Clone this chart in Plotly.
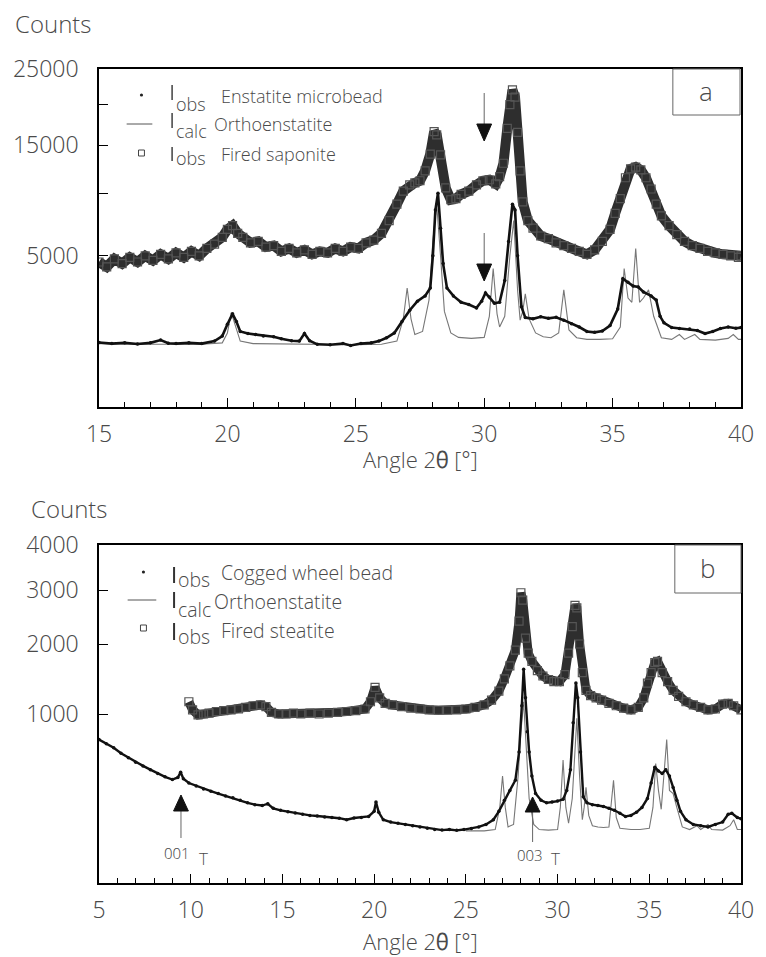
import numpy as np
import plotly.graph_objects as go

# ---------------- Panel a data (counts vs 2theta) ----------------
a_sap_x = [15.0, 15.3, 15.6, 15.9, 16.2, 16.5, 16.8, 17.1, 17.4, 17.7, 18.0, 18.3, 18.6, 18.9,
           19.2, 19.5, 19.8, 20.0, 20.2, 20.4, 20.6, 20.9, 21.2, 21.5, 21.8, 22.1, 22.4, 22.7,
           23.0, 23.3, 23.6, 23.9, 24.2, 24.5, 24.8, 25.1, 25.4, 25.7, 26.0, 26.3, 26.6, 26.85,
           27.1, 27.3, 27.5, 27.7, 27.9, 28.05, 28.15, 28.3, 28.5, 28.7, 28.9, 29.1, 29.4, 29.7,
           29.95, 30.2, 30.45, 30.6, 30.75, 30.9, 31.0, 31.1, 31.2, 31.3, 31.4, 31.5, 31.7, 31.9,
           32.2, 32.5, 32.8, 33.1, 33.4, 33.7, 34.0, 34.3, 34.6, 34.9, 35.1, 35.3, 35.5, 35.7,
           35.9, 36.1, 36.3, 36.5, 36.7, 36.9, 37.2, 37.5, 37.8, 38.1, 38.4, 38.7, 39.0, 39.3,
           39.6, 39.9, 40.0]
a_sap_y = [4600, 4300, 4800, 4500, 4900, 4600, 5000, 4700, 5100, 4800, 5200, 4900, 5300, 5000,
           5500, 5800, 6300, 6900, 7200, 6600, 6300, 5900, 6000, 5600, 5700, 5300, 5500, 5200,
           5400, 5100, 5300, 5200, 5500, 5300, 5600, 5500, 5900, 6100, 6600, 7600, 9000, 10200,
           10800, 11000, 11200, 12200, 14000, 16600, 16200, 13900, 10500, 9400, 9500, 9900, 10200, 10800,
           11200, 11300, 10900, 11600, 13000, 17000, 20000, 22000, 21000, 16500, 12200, 9200, 7600, 7000,
           6400, 6200, 5900, 5700, 5500, 5300, 5100, 5400, 6000, 6900, 8200, 9500, 11500, 12400,
           12600, 12300, 11500, 10400, 9000, 8000, 7200, 6500, 6000, 5700, 5500, 5300, 5200, 5100,
           5000, 4900, 5000]

a_obs_x = [15.0, 15.5, 16.0, 16.5, 17.0, 17.4, 17.7, 18.0, 18.5, 19.0, 19.5, 19.8, 20.0, 20.2,
           20.35, 20.5, 20.8, 21.1, 21.4, 21.8, 22.1, 22.5, 22.8, 23.0, 23.2, 23.5, 24.0, 24.5,
           24.8, 25.2, 25.6, 25.9, 26.2, 26.5, 26.8, 27.1, 27.4, 27.7, 27.9, 28.0, 28.1, 28.2,
           28.3, 28.4, 28.55, 28.8, 29.1, 29.4, 29.7, 29.9, 30.05, 30.2, 30.4, 30.6, 30.8, 30.95,
           31.1, 31.2, 31.3, 31.45, 31.6, 31.9, 32.2, 32.5, 32.8, 33.1, 33.4, 33.7, 34.0, 34.3,
           34.6, 34.9, 35.2, 35.4, 35.6, 35.8, 36.0, 36.2, 36.5, 36.7, 36.85, 37.0, 37.3, 37.6,
           38.0, 38.3, 38.6, 38.9, 39.2, 39.5, 39.8, 40.0]
a_obs_y = [910, 880, 900, 870, 900, 980, 890, 880, 900, 880, 950, 1100, 1500, 1900,
           1600, 1250, 1180, 1150, 1100, 1080, 1020, 960, 950, 1180, 960, 860, 850, 880,
           830, 880, 900, 950, 1050, 1200, 1600, 2050, 2450, 2700, 3100, 5000, 8500, 10000,
           7000, 4500, 3100, 2700, 2400, 2300, 2150, 2450, 2850, 2650, 2350, 2400, 3500, 6000,
           9000, 8500, 5000, 2200, 1750, 1700, 1780, 1720, 1760, 1650, 1520, 1400, 1250, 1220,
           1260, 1450, 2100, 3600, 3400, 3200, 3150, 2900, 2700, 2500, 1800, 1550, 1380, 1350,
           1330, 1280, 1180, 1250, 1350, 1400, 1360, 1380]

a_calc_x = [15.0, 16.0, 17.0, 18.0, 19.0, 19.8, 20.0, 20.15, 20.3, 20.5, 21.0, 22.0, 23.0, 24.0,
            25.0, 26.0, 26.6, 26.85, 27.0, 27.15, 27.3, 27.6, 27.85, 28.0, 28.15, 28.3, 28.45, 28.7,
            29.0, 29.5, 30.0, 30.2, 30.35, 30.5, 30.6, 30.8, 31.0, 31.15, 31.3, 31.4, 31.5, 31.6,
            31.75, 32.0, 32.3, 32.6, 32.9, 33.1, 33.3, 33.6, 34.0, 34.5, 35.0, 35.3, 35.45, 35.6,
            35.75, 35.9, 36.05, 36.2, 36.4, 36.6, 36.9, 37.3, 37.6, 37.8, 38.2, 38.4, 39.0, 39.5,
            39.7, 39.9, 40.0]
a_calc_y = [880, 860, 860, 860, 860, 900, 1200, 1950, 1500, 950, 880, 870, 860, 850,
            850, 860, 950, 1700, 3100, 1700, 1150, 1250, 2500, 6000, 9000, 5000, 2000, 1200,
            1060, 1030, 1060, 1800, 4200, 1900, 1400, 1800, 5000, 7600, 3000, 1650, 2000, 2800,
            1700, 1200, 1080, 1050, 1200, 3000, 1300, 1050, 1000, 1000, 1020, 1400, 4200, 2600,
            2400, 5500, 2400, 2600, 3000, 1800, 1050, 1000, 1150, 1000, 1150, 1000, 980, 1030,
            1150, 1000, 1000]

# ---------------- Panel b data ----------------
b_ste_x = [9.9, 10.1, 10.4, 10.7, 11.0, 11.4, 11.8, 12.2, 12.6, 13.0, 13.4, 13.8, 14.1, 14.4,
           14.8, 15.2, 15.6, 16.0, 16.5, 17.0, 17.5, 18.0, 18.5, 19.0, 19.5, 19.8, 20.05, 20.3,
           20.6, 21.0, 21.5, 22.0, 22.5, 23.0, 23.5, 24.0, 24.5, 25.0, 25.5, 26.0, 26.4, 26.8,
           27.1, 27.4, 27.7, 27.9, 28.0, 28.1, 28.25, 28.4, 28.6, 28.9, 29.2, 29.5, 29.8, 30.1,
           30.4, 30.6, 30.8, 30.95, 31.05, 31.2, 31.35, 31.55, 31.8, 32.1, 32.4, 32.8, 33.2, 33.6,
           34.0, 34.4, 34.7, 34.9, 35.1, 35.3, 35.45, 35.7, 36.0, 36.3, 36.6, 37.0, 37.4, 37.8,
           38.2, 38.6, 39.0, 39.3, 39.6, 40.0]
b_ste_y = [1150, 1050, 990, 1000, 1010, 1030, 1040, 1050, 1060, 1080, 1100, 1110, 1090, 1020,
           1000, 1000, 1010, 1000, 1010, 1000, 1010, 1020, 1030, 1040, 1060, 1150, 1340, 1200,
           1130, 1110, 1090, 1070, 1060, 1050, 1045, 1045, 1050, 1060, 1080, 1110, 1170, 1290,
           1460, 1650, 1900, 2400, 2950, 2800, 2100, 1850, 1720, 1580, 1500, 1450, 1420, 1420,
           1520, 1850, 2300, 2700, 2650, 2000, 1550, 1300, 1230, 1200, 1170, 1130, 1100, 1070,
           1050, 1080, 1200, 1400, 1550, 1700, 1720, 1550, 1420, 1300, 1220, 1150, 1110, 1080,
           1050, 1060, 1120, 1130, 1100, 1050]

b_obs_x = [5.0, 5.4, 5.8, 6.2, 6.6, 7.0, 7.4, 7.8, 8.2, 8.6, 9.0, 9.3, 9.45, 9.6,
           9.9, 10.3, 10.7, 11.1, 11.5, 11.9, 12.3, 12.7, 13.1, 13.5, 13.9, 14.2, 14.5, 14.9,
           15.3, 15.7, 16.1, 16.5, 16.9, 17.3, 17.7, 18.1, 18.5, 18.9, 19.3, 19.7, 20.0, 20.1,
           20.25, 20.5, 20.9, 21.3, 21.7, 22.1, 22.5, 22.9, 23.3, 23.7, 24.1, 24.5, 24.9, 25.3,
           25.7, 26.1, 26.5, 26.8, 27.1, 27.4, 27.7, 27.9, 28.05, 28.15, 28.25, 28.35, 28.45, 28.6,
           28.8, 29.1, 29.4, 29.7, 30.0, 30.3, 30.5, 30.7, 30.85, 31.0, 31.1, 31.25, 31.4, 31.6,
           31.9, 32.2, 32.5, 32.8, 33.1, 33.4, 33.7, 34.0, 34.3, 34.6, 34.9, 35.1, 35.3, 35.5,
           35.7, 35.9, 36.1, 36.3, 36.5, 36.7, 37.0, 37.4, 37.8, 38.2, 38.6, 39.0, 39.3, 39.5,
           39.8, 40.0]
b_obs_y = [720, 680, 640, 590, 550, 510, 480, 450, 420, 395, 375, 390, 430, 380,
           350, 330, 310, 295, 280, 265, 255, 240, 225, 215, 210, 220, 195, 185,
           178, 172, 165, 160, 157, 152, 150, 147, 140, 148, 150, 155, 180, 230,
           175, 140, 130, 125, 120, 115, 110, 105, 100, 98, 100, 97, 100, 104,
           110, 120, 140, 180, 240, 300, 370, 600, 1100, 1600, 1200, 800, 600, 400,
           280, 240, 225, 230, 235, 245, 300, 450, 900, 1400, 1200, 600, 260, 225,
           215, 210, 205, 195, 185, 170, 155, 160, 175, 200, 250, 350, 470, 440,
           420, 450, 400, 320, 240, 180, 140, 120, 115, 110, 120, 130, 165, 170,
           150, 145]

b_calc_x = [25.0, 26.0, 26.6, 26.85, 27.0, 27.15, 27.3, 27.6, 27.85, 28.0, 28.15, 28.3, 28.45, 28.7,
            29.0, 29.5, 30.0, 30.15, 30.3, 30.45, 30.6, 30.8, 30.95, 31.05, 31.2, 31.35, 31.45, 31.55,
            31.7, 31.9, 32.2, 32.5, 32.8, 32.95, 33.05, 33.2, 33.4, 34.0, 34.5, 35.0, 35.2, 35.35,
            35.5, 35.65, 35.8, 35.95, 36.1, 36.3, 36.5, 36.8, 37.2, 37.6, 37.8, 38.2, 38.4, 39.0,
            39.4, 39.6, 39.8, 40.0]
b_calc_y = [95, 95, 100, 200, 400, 200, 110, 120, 400, 800, 1150, 600, 250, 120,
            100, 98, 100, 200, 530, 200, 125, 250, 700, 950, 400, 140, 200, 320,
            160, 115, 110, 108, 110, 250, 370, 150, 105, 100, 100, 105, 200, 500,
            300, 190, 400, 720, 300, 280, 200, 110, 100, 115, 100, 120, 100, 98,
            115, 140, 100, 100]

# Axis tick values (counts)
a_ticks = [5000, 10000, 15000, 20000, 25000]
a_ticktext = ["5000", "", "15000", "", "25000"]
b_ticks = [1000, 2000, 3000, 4000]
b_ticktext = ["1000", "2000", "3000", "4000"]

# ---------------- Figure ----------------
W, H = 766, 957
ML, MR, MT, MB = 99, 17, 69, 74
PW, PH = W - ML - MR, H - MT - MB


def PX(px):
    return (px - ML) / PW


def PY(py):
    return (H - MB - py) / PH


sq = np.sqrt
FONT = '"Open Sans Light", "Lato Light", "Liberation Sans", Arial, sans-serif'
GREY = "#4a4a4a"

fig = go.Figure()

# panel a
fig.add_trace(go.Scatter(x=a_sap_x, y=sq(a_sap_y), mode="lines+markers", xaxis="x", yaxis="y",
                         line=dict(color="#2e2e2e", width=10),
                         marker=dict(symbol="square-open", size=8, color="#555", line=dict(width=1.2)),
                         showlegend=False, name="Iobs Fired saponite"))
fig.add_trace(go.Scatter(x=a_calc_x, y=sq(a_calc_y), mode="lines", xaxis="x", yaxis="y",
                         line=dict(color="#777", width=1.1), showlegend=False,
                         name="Icalc Orthoenstatite"))
fig.add_trace(go.Scatter(x=a_obs_x, y=sq(a_obs_y), mode="lines+markers", xaxis="x", yaxis="y",
                         line=dict(color="#111", width=2.6), marker=dict(size=3.5, color="#111"),
                         showlegend=False, name="Iobs Enstatite microbead"))

# panel b
fig.add_trace(go.Scatter(x=b_ste_x, y=sq(b_ste_y), mode="lines+markers", xaxis="x2", yaxis="y2",
                         line=dict(color="#2e2e2e", width=9),
                         marker=dict(symbol="square-open", size=8, color="#555", line=dict(width=1.2)),
                         showlegend=False, name="Iobs Fired steatite"))
fig.add_trace(go.Scatter(x=b_calc_x, y=sq(b_calc_y), mode="lines", xaxis="x2", yaxis="y2",
                         line=dict(color="#777", width=1.1), showlegend=False,
                         name="Icalc Orthoenstatite"))
fig.add_trace(go.Scatter(x=b_obs_x, y=sq(b_obs_y), mode="lines+markers", xaxis="x2", yaxis="y2",
                         line=dict(color="#111", width=2.4), marker=dict(size=3.5, color="#111"),
                         showlegend=False, name="Iobs Cogged wheel bead"))

ax_common = dict(showline=True, linecolor="black", linewidth=1.5, mirror=True, showgrid=False,
                 zeroline=False, ticks="inside", tickcolor="black", tickwidth=1,
                 tickfont=dict(family=FONT, size=23, color=GREY))

fig.update_layout(
    width=W, height=H, margin=dict(l=ML, r=MR, t=MT, b=MB),
    paper_bgcolor="white", plot_bgcolor="white", showlegend=False,
    xaxis=dict(domain=[0, 1], anchor="y", range=[15, 40], tickmode="linear", tick0=15, dtick=5,
               ticklen=9, ticklabelstandoff=6,
               minor=dict(dtick=1, tick0=15, ticks="inside", ticklen=5, tickcolor="black", showgrid=False),
               **ax_common),
    yaxis=dict(domain=[PY(407), 1], anchor="x", range=[0, sq(25000)], tickmode="array",
               tickvals=list(sq(a_ticks)), ticktext=a_ticktext, ticklen=9, ticklabelstandoff=14,
               **ax_common),
    xaxis2=dict(domain=[0, 1], anchor="y2", range=[5, 40], tickmode="linear", tick0=5, dtick=5,
                ticklen=9, ticklabelstandoff=6,
                minor=dict(dtick=1, tick0=5, ticks="inside", ticklen=5, tickcolor="black", showgrid=False),
                **ax_common),
    yaxis2=dict(domain=[0, PY(545)], anchor="x2", range=[0, sq(4000)], tickmode="array",
                tickvals=list(sq(b_ticks)), ticktext=b_ticktext, ticklen=9, ticklabelstandoff=14,
                **ax_common),
)

shapes = []
anns = []


def text(px, py, s, size=17, xanchor="left", color=GREY):
    anns.append(dict(x=PX(px), y=PY(py), xref="paper", yref="paper", text=s, showarrow=False,
                     xanchor=xanchor, yanchor="middle", font=dict(family=FONT, size=size, color=color)))


# Axis labels
text(12, 24, "Counts", size=24)
text(28, 508, "Counts", size=24)
text(424, 459, "Angle 2<b>θ</b> [°]", size=22, xanchor="center")
text(424, 941, "Angle 2<b>θ</b> [°]", size=22, xanchor="center")

# Panel labels in boxes
shapes.append(dict(type="rect", xref="paper", yref="paper", x0=PX(680), x1=PX(748), y0=PY(115), y1=PY(69),
                   line=dict(color="#666", width=1)))
text(714, 91, "a", size=26, xanchor="center")
shapes.append(dict(type="rect", xref="paper", yref="paper", x0=PX(682), x1=PX(749), y0=PY(593), y1=PY(545),
                   line=dict(color="#666", width=1)))
text(715, 568, "b", size=26, xanchor="center")


# Legend-like keys
def dot(px, py, r=1.6):
    shapes.append(dict(type="circle", xref="paper", yref="paper", x0=PX(px - r), x1=PX(px + r),
                       y0=PY(py + r), y1=PY(py - r), fillcolor="#222", line=dict(width=0)))


def square(px, py, r=3):
    shapes.append(dict(type="rect", xref="paper", yref="paper", x0=PX(px - r), x1=PX(px + r),
                       y0=PY(py + r), y1=PY(py - r), line=dict(color="#444", width=1)))


def hline(x0, x1, py):
    shapes.append(dict(type="line", xref="paper", yref="paper", x0=PX(x0), x1=PX(x1), y0=PY(py), y1=PY(py),
                       line=dict(color="#555", width=1)))


def ibar(px, y0, y1, w=1.4):
    shapes.append(dict(type="line", xref="paper", yref="paper", x0=PX(px), x1=PX(px), y0=PY(y0), y1=PY(y1),
                       line=dict(color="#333", width=w)))


def key_row(bar, sub, py_sub, label, py_lab, size=18, bx=173, w=1.4):
    ibar(bx, bar[0], bar[1], w)
    text(bx + 2, py_sub, sub, size=size)
    text(221 if sub == "obs" else 213, py_lab, label, size=size)


# panel a keys
dot(142, 95)
key_row((85, 100), "obs", 104, "Enstatite microbead", 96)
hline(127, 153, 124)
key_row((113, 128), "calc", 131, "Orthoenstatite", 124)
square(142, 153)
key_row((147, 161), "obs", 158, "Fired saponite", 154)

# panel b keys
dot(144, 572)
key_row((567, 583), "obs", 579, "Cogged wheel bead", 572, size=19.5, bx=175, w=2)
hline(128, 157, 600)
key_row((592, 608), "calc", 609, "Orthoenstatite", 601, size=19.5, bx=175, w=2)
square(144, 628)
key_row((623, 640), "obs", 636, "Fired steatite", 630, size=19.5, bx=175, w=2)


# Arrows (shaft + filled triangle head)
def arrow(px, y_tail, y_base, y_tip, hw=7.5):
    shapes.append(dict(type="line", xref="paper", yref="paper", x0=PX(px), x1=PX(px),
                       y0=PY(y_tail), y1=PY(y_base), line=dict(color="#666", width=1)))
    path = "M {} {} L {} {} L {} {} Z".format(PX(px - hw), PY(y_base), PX(px + hw), PY(y_base),
                                              PX(px), PY(y_tip))
    shapes.append(dict(type="path", xref="paper", yref="paper", path=path, fillcolor="#111",
                       line=dict(color="#111", width=1)))


arrow(489, 93, 124, 141)
arrow(489, 233, 264, 281)
arrow(182, 838, 811, 795)
arrow(538, 842, 812, 797)
text(178, 853, "001", size=15, xanchor="center")
text(205, 858, "T", size=17, xanchor="center")
text(535, 855, "003", size=15, xanchor="center")
text(561, 858, "T", size=17, xanchor="center")

fig.update_layout(shapes=shapes, annotations=anns)
fig.write_html("out.html")
